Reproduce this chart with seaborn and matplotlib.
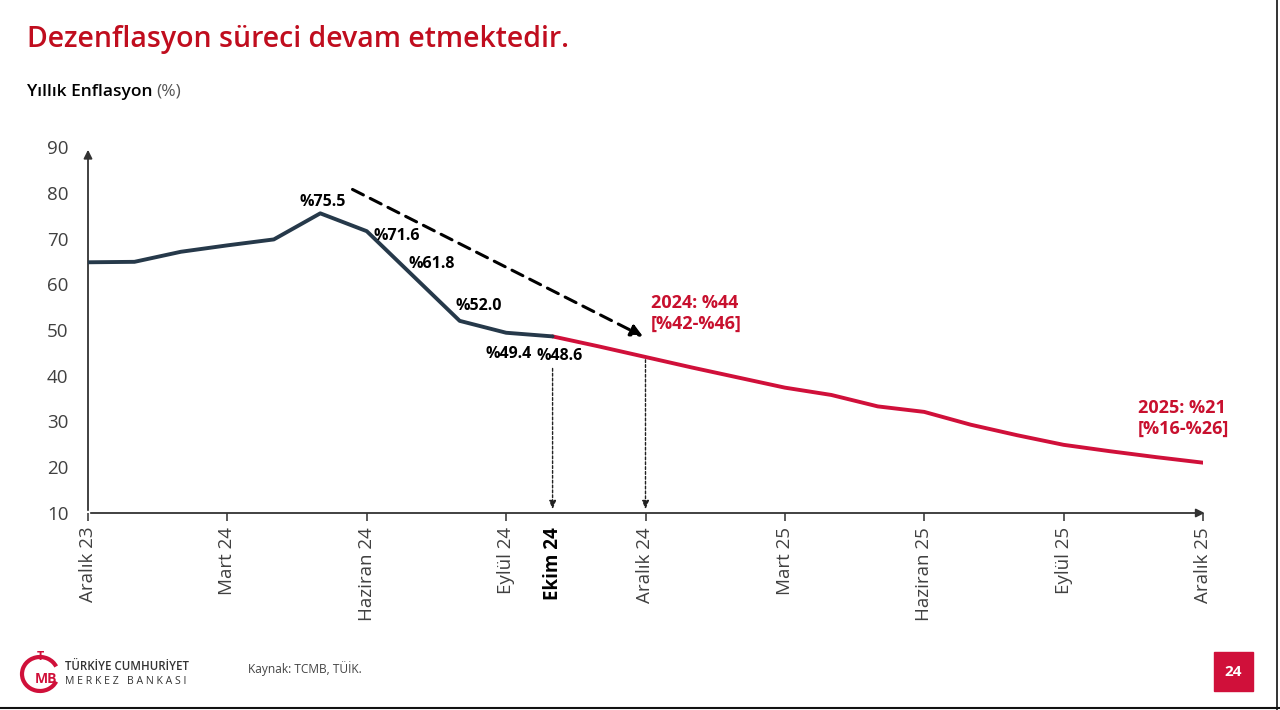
import pandas as pd
import seaborn as sns
import matplotlib.pyplot as plt
from matplotlib.patches import Rectangle, Arc

# -------------------------------
# Data
# -------------------------------
actual_months = list(range(0, 11))          # Aralik 23 .. Ekim 24
actual_values = [64.8, 64.9, 67.1, 68.5, 69.8, 75.5, 71.6, 61.8, 52.0, 49.4, 48.6]

forecast_months = list(range(10, 25))       # Ekim 24 .. Aralik 25
forecast_values = [48.6, 46.4, 44.1, 41.8, 39.6, 37.4, 35.8, 33.3, 32.1,
                   29.3, 27.0, 24.9, 23.5, 22.2, 21.0]

tick_pos = [0, 3, 6, 9, 10, 12, 15, 18, 21, 24]
tick_labels = ["Aralık 23", "Mart 24", "Haziran 24", "Eylül 24", "Ekim 24",
               "Aralık 24", "Mart 25", "Haziran 25", "Eylül 25", "Aralık 25"]

point_labels = ["%75.5", "%71.6", "%61.8", "%52.0", "%49.4", "%48.6"]
label_xy = [(5.05, 77.9), (6.65, 70.5), (7.4, 64.4), (8.4, 55.2), (9.05, 44.7), (10.15, 44.3)]

DARK = "#26394a"
RED = "#d0103a"
TXT_RED = "#c8102e"

df_act = pd.DataFrame({"ay": actual_months, "enflasyon": actual_values})
df_fc = pd.DataFrame({"ay": forecast_months, "enflasyon": forecast_values})

sns.set_style("white")
plt.rcParams["font.family"] = ["Open Sans", "DejaVu Sans"]

fig = plt.figure(figsize=(12.8, 7.1), dpi=100)
ax = fig.add_axes([88 / 1280, 1 - 513 / 710, (1203 - 88) / 1280, (513 - 147) / 710])

# -------------------------------
# Lines
# -------------------------------
sns.lineplot(data=df_fc, x="ay", y="enflasyon", color=RED, linewidth=2.8, ax=ax, zorder=3)
sns.lineplot(data=df_act, x="ay", y="enflasyon", color=DARK, linewidth=2.8, ax=ax, zorder=4)

ax.set_xlim(0, 24)
ax.set_ylim(10, 90)
ax.set_yticks(range(10, 91, 10))
ax.set_xticks(tick_pos)
ax.set_xticklabels(tick_labels, rotation=90)
ax.set_xlabel("")
ax.set_ylabel("")
for s in ax.spines.values():
    s.set_visible(False)

ax.tick_params(axis="y", length=0, labelsize=13.5, labelcolor="#404040", pad=14)
ax.tick_params(axis="x", length=6, width=1.2, color="#404040", labelsize=13.5,
               labelcolor="#404040", pad=4, direction="out", bottom=True)
for i, t in enumerate(ax.get_xticklabels()):
    if tick_labels[i] == "Ekim 24":
        t.set_fontweight("bold")
        t.set_color("black")
ax.xaxis.get_major_ticks()[tick_labels.index("Ekim 24")].tick1line.set_visible(False)

# axis lines with arrow heads
ax.annotate("", xy=(0, 1.0), xytext=(0, 0), xycoords="axes fraction",
            arrowprops=dict(arrowstyle="-|>,head_length=0.5,head_width=0.25",
                            color="#333333", lw=1.3), annotation_clip=False)
ax.annotate("", xy=(1.004, 0), xytext=(0, 0), xycoords="axes fraction",
            arrowprops=dict(arrowstyle="-|>,head_length=0.5,head_width=0.25",
                            color="#333333", lw=1.3), annotation_clip=False)

# point labels
for txt, (x, y) in zip(point_labels, label_xy):
    ax.text(x, y, txt, fontsize=11.5, fontweight="bold", color="black",
            ha="center", va="center", zorder=5)

# trend arrow
ax.annotate("", xy=(12.0, 48.3), xytext=(5.64, 81.0),
            arrowprops=dict(arrowstyle="-|>,head_length=0.7,head_width=0.35",
                            color="black", lw=2.2, linestyle=(0, (4, 2.5))))

# vertical dotted arrows
for x0, y0 in [(10, 42.2), (12, 44.1)]:
    ax.annotate("", xy=(x0, 10.2), xytext=(x0, y0),
                arrowprops=dict(arrowstyle="-|>,head_length=0.5,head_width=0.2",
                                color="#222222", lw=1.0, linestyle=(0, (2, 1.5))),
                annotation_clip=False)

# forecast labels
ax.text(12.12, 53.6, "2024: %44\n[%42-%46]", fontsize=13, fontweight="bold",
        color=TXT_RED, ha="left", va="center", linespacing=1.2)
ax.text(22.6, 30.6, "2025: %21\n[%16-%26]", fontsize=13, fontweight="bold",
        color=TXT_RED, ha="left", va="center", linespacing=1.2)

# -------------------------------
# Titles and footer
# -------------------------------
fig.text(27 / 1280, 1 - 39 / 710, "Dezenflasyon süreci devam etmektedir.",
         fontsize=20.5, fontweight="semibold", color="#c00d1e", ha="left", va="center")
sub = fig.text(27 / 1280, 1 - 92 / 710, "Yıllık Enflasyon", fontsize=12.5,
               fontweight="semibold", color="black", ha="left", va="center")
fig.canvas.draw()
sub_end = sub.get_window_extent().x1
fig.text((sub_end + 4) / 1280, 1 - 92 / 710, "(%)", fontsize=12.5, color="#555555",
         ha="left", va="center")

# logo (approximate)
fig.patches.append(Arc((40 / 1280, 1 - 674 / 710), 36 / 1280, 34 / 710,
                       theta1=40, theta2=320, transform=fig.transFigure,
                       color=RED, lw=3))
fig.text(40 / 1280, 1 - 657 / 710, "T", fontsize=9, color=RED, ha="center",
         va="center", fontweight="bold")
fig.text(46 / 1280, 1 - 679 / 710, "MB", fontsize=10, color=RED, ha="center",
         va="center", fontweight="bold")
fig.text(65 / 1280, 1 - 666 / 710, "TÜRKİYE CUMHURİYET", fontsize=8.3,
         color="#333333", ha="left", va="center", fontweight="semibold")
fig.text(65 / 1280, 1 - 681 / 710, "M E R K E Z   B A N K A S I", fontsize=7.6,
         color="#333333", ha="left", va="center")
fig.text(248 / 1280, 1 - 669 / 710, "Kaynak: TCMB, TÜİK.", fontsize=8.6,
         color="#444444", ha="left", va="center")

fig.patches.append(Rectangle((1214 / 1280, 1 - 691 / 710), 39 / 1280, 39 / 710,
                             transform=fig.transFigure, color="#d0103a"))
fig.text(1233.5 / 1280, 1 - 672 / 710, "24", fontsize=11, fontweight="bold",
         color="white", ha="center", va="center")

# slide frame
fig.add_artist(plt.Line2D([0, 1], [2 / 710, 2 / 710], color="#111111", lw=1.5,
                          transform=fig.transFigure))
fig.add_artist(plt.Line2D([1277 / 1280, 1277 / 1280], [0, 1], color="#111111",
                          lw=1.2, transform=fig.transFigure))

fig.savefig("out.png", dpi=100)
